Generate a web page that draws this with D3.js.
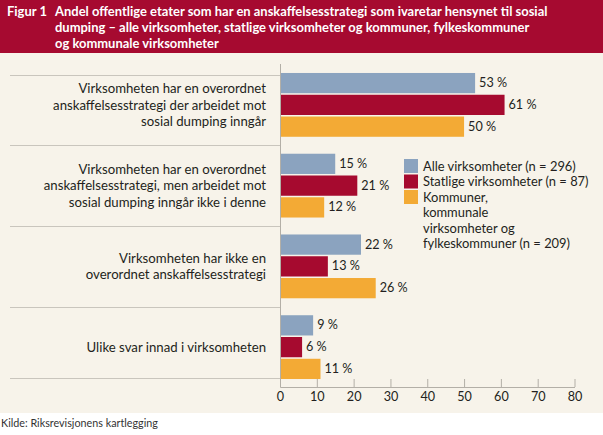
<!DOCTYPE html>
<html>
<head>
<meta charset="utf-8">
<script src="https://cdn.jsdelivr.net/npm/d3@7"></script>
<style>
  html, body { margin: 0; padding: 0; background: #ffffff; }
  svg { display: block; }
</style>
</head>
<body>
<div id="chart"></div>
<script>
// ---------- DATA ----------
const categories = [
  ["Virksomheten har en overordnet", "anskaffelsesstrategi der arbeidet mot", "sosial dumping inngår"],
  ["Virksomheten har en overordnet", "anskaffelsesstrategi, men arbeidet mot", "sosial dumping inngår ikke i denne"],
  ["Virksomheten har ikke en", "overordnet anskaffelsesstrategi"],
  ["Ulike svar innad i virksomheten"]
];
const seriesNames = [
  ["Alle virksomheter (n = 296)"],
  ["Statlige virksomheter (n = 87)"],
  ["Kommuner,", "kommunale", "virksomheter og", "fylkeskommuner (n = 209)"]
];
const alleValues = [53, 15, 22, 9];
const statligeValues = [61, 21, 13, 6];
const kommunerValues = [50, 12, 26, 11];
const xTicks = [0, 10, 20, 30, 40, 50, 60, 70, 80];
const titleLabel = "Figur 1";
const titleLines = [
  "Andel offentlige etater som har en anskaffelsesstrategi som ivaretar hensynet til sosial",
  "dumping – alle virksomheter, statlige virksomheter og kommuner, fylkeskommuner",
  "og kommunale virksomheter"
];
const sourceText = "Kilde: Riksrevisjonens kartlegging";

const series = [alleValues, statligeValues, kommunerValues];
const colors = ["#8ba3bf", "#a60a2f", "#f3aa35"];

// ---------- SETUP ----------
const W = 603, H = 435;
const FONT = "Lato, 'Open Sans', sans-serif";
const svg = d3.select("#chart").append("svg").attr("width", W).attr("height", H);

function measure(txt, size, weight) {
  const t = svg.append("text").attr("font-family", FONT).attr("font-size", size)
    .attr("font-weight", weight || "normal").text(txt);
  const w = t.node().getComputedTextLength();
  t.remove();
  return w;
}
function fitSize(txt, target, weight) {
  return 20 * target / measure(txt, 20, weight);
}
const catSize = fitSize("anskaffelsesstrategi der arbeidet mot", 213);
const legSize = fitSize("Alle virksomheter (n = 296)", 153);
const titleSize = fitSize(titleLines[0], 493, "bold");
const srcSize = fitSize(sourceText, 157);
const numSize = Math.min(catSize, fitSize("53 %", 28));

// backgrounds
svg.append("rect").attr("x", 0).attr("y", 0).attr("width", W).attr("height", 53).attr("fill", "#a60a30");
svg.append("rect").attr("x", 0).attr("y", 53).attr("width", W).attr("height", 360).attr("fill", "#f7f3ea");

// title
svg.append("text").attr("x", 7).attr("y", 15.5).attr("font-family", FONT).attr("font-weight", "bold")
  .attr("font-size", titleSize).attr("fill", "#fff").text(titleLabel);
svg.selectAll("text.title").data(titleLines).join("text").attr("class", "title")
  .attr("x", 55).attr("y", (d, i) => 15.5 + i * 16.3)
  .attr("font-family", FONT).attr("font-weight", "bold").attr("font-size", titleSize)
  .attr("fill", "#fff").text(d => d);

// scales
const x = d3.scaleLinear().domain([0, 80]).range([280, 574.5]);
const y = d3.scaleBand().domain(d3.range(categories.length)).range([64.5, 387.5])
  .paddingInner(0.21).paddingOuter(0.105);
const yi = d3.scaleBand().domain(d3.range(series.length)).range([0, y.bandwidth()]).paddingInner(0.07);

// separator lines
const bw = y.bandwidth();
const sepYs = [y(0) + 2];
for (let i = 1; i < categories.length; i++) sepYs.push((y(i - 1) + bw + y(i)) / 2);
sepYs.push(y(categories.length - 1) + bw - 1);
svg.selectAll("line.sep").data(sepYs).join("line").attr("class", "sep")
  .attr("x1", 10).attr("x2", x(0)).attr("y1", d => Math.round(d) + 0.5).attr("y2", d => Math.round(d) + 0.5)
  .attr("stroke", "#c9c5bd").attr("stroke-width", 1);

// bars
const groups = svg.selectAll("g.grp").data(categories).join("g").attr("class", "grp")
  .attr("transform", (d, i) => `translate(0,${y(i)})`);
groups.each(function (d, i) {
  const g = d3.select(this);
  const vals = series.map((s, j) => ({ v: s[i], j }));
  g.selectAll("rect").data(vals).join("rect")
    .attr("x", x(0)).attr("y", e => yi(e.j))
    .attr("width", e => x(e.v) - x(0)).attr("height", yi.bandwidth())
    .attr("fill", e => colors[e.j]);
  g.selectAll("text.val").data(vals).join("text").attr("class", "val")
    .attr("x", e => x(e.v) + 4).attr("y", e => yi(e.j) + yi.bandwidth() / 2)
    .attr("dy", "0.32em").attr("font-family", FONT).attr("font-size", numSize)
    .attr("fill", "#231f20").text(e => e.v + " %");
  // category label
  const lh = 16.7;
  const n = d.length;
  g.selectAll("text.cat").data(d).join("text").attr("class", "cat")
    .attr("x", 266).attr("text-anchor", "end")
    .attr("y", (t, k) => bw / 2 + (k - (n - 1) / 2) * lh)
    .attr("dy", "0.36em").attr("font-family", FONT).attr("font-size", catSize)
    .attr("fill", "#231f20").text(t => t);
});

// vertical axis line
svg.append("line").attr("x1", x(0) + 0.5).attr("x2", x(0) + 0.5).attr("y1", 64).attr("y2", 387.5)
  .attr("stroke", "#b3afa7");

// x axis
const ax = svg.append("g").attr("transform", "translate(0,387)")
  .call(d3.axisBottom(x).tickValues(xTicks).tickSizeInner(-8).tickSizeOuter(0).tickPadding(5));
ax.select(".domain").attr("stroke", "#b3afa7");
ax.selectAll(".tick line").attr("stroke", "#b3afa7");
ax.selectAll(".tick text").attr("font-family", FONT).attr("font-size", numSize).attr("fill", "#231f20");

// legend
const legLH = 15.5;
let row = 0;
seriesNames.forEach((lines, j) => {
  const cy = 166 + row * legLH;
  svg.append("rect").attr("x", 404).attr("y", cy - 7).attr("width", 14).attr("height", 14).attr("fill", colors[j]);
  lines.forEach((t, k) => {
    svg.append("text").attr("x", 423).attr("y", cy + k * legLH).attr("dy", "0.36em")
      .attr("font-family", FONT).attr("font-size", legSize).attr("fill", "#231f20").text(t);
  });
  row += lines.length;
});

// source
svg.append("text").attr("x", 1).attr("y", 427).attr("font-family", FONT).attr("font-size", srcSize)
  .attr("fill", "#333").text(sourceText);
</script>
</body>
</html>
